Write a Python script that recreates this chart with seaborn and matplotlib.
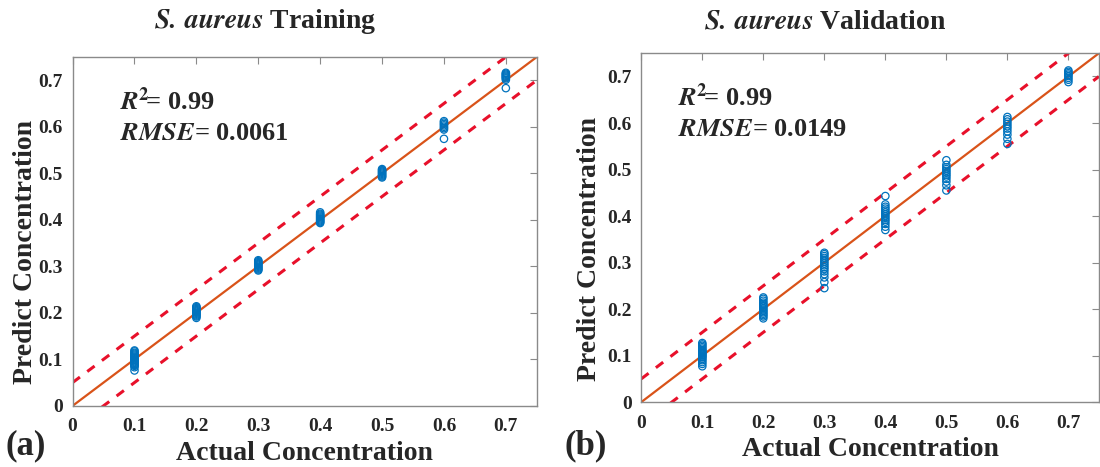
import matplotlib
matplotlib.use("Agg")
import matplotlib.pyplot as plt
import seaborn as sns
import pandas as pd

sns.set_style("white")
plt.rcParams["font.family"] = ["Liberation Serif", "DejaVu Serif"]
plt.rcParams["font.weight"] = "bold"
plt.rcParams["mathtext.fontset"] = "stix"

# 实际浓度
levels = [0.1, 0.2, 0.3, 0.4, 0.5, 0.6, 0.7]

# 训练集预测值
train_pred = [
    [0.076, 0.083, 0.086, 0.088, 0.090, 0.092, 0.094, 0.096, 0.098, 0.100, 0.102, 0.104, 0.106, 0.108, 0.110, 0.112, 0.114, 0.117, 0.119],
    [0.189, 0.192, 0.194, 0.196, 0.198, 0.200, 0.202, 0.204, 0.206, 0.208, 0.210, 0.212, 0.214],
    [0.291, 0.293, 0.295, 0.297, 0.299, 0.301, 0.303, 0.305, 0.307, 0.309, 0.311, 0.313],
    [0.393, 0.395, 0.397, 0.399, 0.401, 0.403, 0.405, 0.407, 0.409, 0.411, 0.413, 0.416],
    [0.491, 0.493, 0.495, 0.497, 0.499, 0.501, 0.503, 0.505, 0.507, 0.509],
    [0.574, 0.594, 0.597, 0.600, 0.603, 0.606, 0.609, 0.612],
    [0.683, 0.701, 0.704, 0.706, 0.708, 0.710, 0.712, 0.714, 0.716],
]

# 验证集预测值
val_pred = [
    [0.077, 0.082, 0.086, 0.090, 0.093, 0.096, 0.098, 0.100, 0.102, 0.104, 0.106, 0.108, 0.110, 0.112, 0.115, 0.118, 0.121, 0.124, 0.127],
    [0.180, 0.184, 0.187, 0.190, 0.193, 0.196, 0.199, 0.202, 0.205, 0.208, 0.211, 0.214, 0.218, 0.222, 0.225],
    [0.245, 0.258, 0.268, 0.275, 0.281, 0.286, 0.290, 0.294, 0.298, 0.302, 0.306, 0.310, 0.314, 0.318, 0.321],
    [0.370, 0.377, 0.383, 0.388, 0.392, 0.396, 0.400, 0.404, 0.408, 0.412, 0.416, 0.420, 0.425, 0.443],
    [0.455, 0.466, 0.474, 0.480, 0.485, 0.489, 0.493, 0.497, 0.501, 0.505, 0.510, 0.520],
    [0.555, 0.566, 0.575, 0.582, 0.588, 0.593, 0.598, 0.603, 0.608, 0.613],
    [0.688, 0.693, 0.697, 0.701, 0.704, 0.707, 0.710, 0.713],
]

titles = [r"$\mathbfit{S.\,aureus}$ Training", r"$\mathbfit{S.\,aureus}$ Validation"]
r2_texts = [r"$\mathbfit{R}^{\mathbf{2}}\!$= 0.99", r"$\mathbfit{R}^{\mathbf{2}}\!$= 0.99"]
rmse_texts = [r"$\mathbfit{RMSE}$= 0.0061", r"$\mathbfit{RMSE}$= 0.0149"]
panel_labels = ["(a)", "(b)"]
ticks = [0, 0.1, 0.2, 0.3, 0.4, 0.5, 0.6, 0.7]
tick_labels = ["0", "0.1", "0.2", "0.3", "0.4", "0.5", "0.6", "0.7"]

line_x = [0, 0.75]
band = 0.05


def to_long(preds):
    rows = []
    for lv, vals in zip(levels, preds):
        for v in vals:
            rows.append({"actual": lv, "predict": v})
    return pd.DataFrame(rows)


fig = plt.figure(figsize=(11, 4.67), dpi=100)
axes = [
    fig.add_axes([0.066, 0.131, 0.422, 0.747]),
    fig.add_axes([0.583, 0.139, 0.416, 0.747]),
]
panel_x = [0.005, 0.513]
title_x = [0.241, 0.750]
text_x = [0.077, 0.06]
ylabel_x = [-0.075, -0.085]

for i, (ax, preds) in enumerate(zip(axes, [train_pred, val_pred])):
    df = to_long(preds)
    # 拟合线和误差带
    ax.plot(line_x, line_x, color="#D95319", lw=1.6, zorder=2)
    ax.plot(line_x, [x + band for x in line_x], color="#E8102A", lw=2.2, ls=(0, (3, 3)), zorder=2)
    ax.plot(line_x, [x - band for x in line_x], color="#E8102A", lw=2.2, ls=(0, (3, 3)), zorder=2)
    sns.scatterplot(data=df, x="actual", y="predict", ax=ax, marker="o",
                    facecolors="none", edgecolor="#0072BD", linewidth=0.9, s=28, zorder=3)

    ax.set_xlim(0, 0.75)
    ax.set_ylim(0, 0.75)
    ax.set_xticks(ticks)
    ax.set_yticks(ticks)
    ax.set_xticklabels(tick_labels, fontsize=14, fontweight="bold", color="#262626")
    ax.set_yticklabels(tick_labels, fontsize=14, fontweight="bold", color="#262626")
    ax.tick_params(direction="in", top=True, right=True, length=5, width=0.8,
                   color="#8a8a8a")
    ax.tick_params(axis="x", pad=9)
    ax.tick_params(axis="y", pad=7)
    for sp in ax.spines.values():
        sp.set_color("#8a8a8a")
        sp.set_linewidth(1.0)

    ax.set_xlabel("Actual Concentration", fontsize=20, fontweight="bold", labelpad=4)
    ax.set_ylabel("Predict Concentration", fontsize=20, fontweight="bold")
    ax.yaxis.set_label_coords(ylabel_x[i], 0.44)

    fig.text(title_x[i], 0.953, titles[i], fontsize=20, fontweight="bold",
             ha="center", va="center")

    ax.text(text_x[i], 0.656, r2_texts[i], fontsize=19, fontweight="bold", va="center")
    ax.text(text_x[i], 0.585, rmse_texts[i], fontsize=19, fontweight="bold", va="center")

    fig.text(panel_x[i], 0.045, panel_labels[i], fontsize=25, fontweight="bold", va="center")

fig.savefig("out.png", dpi=100)
